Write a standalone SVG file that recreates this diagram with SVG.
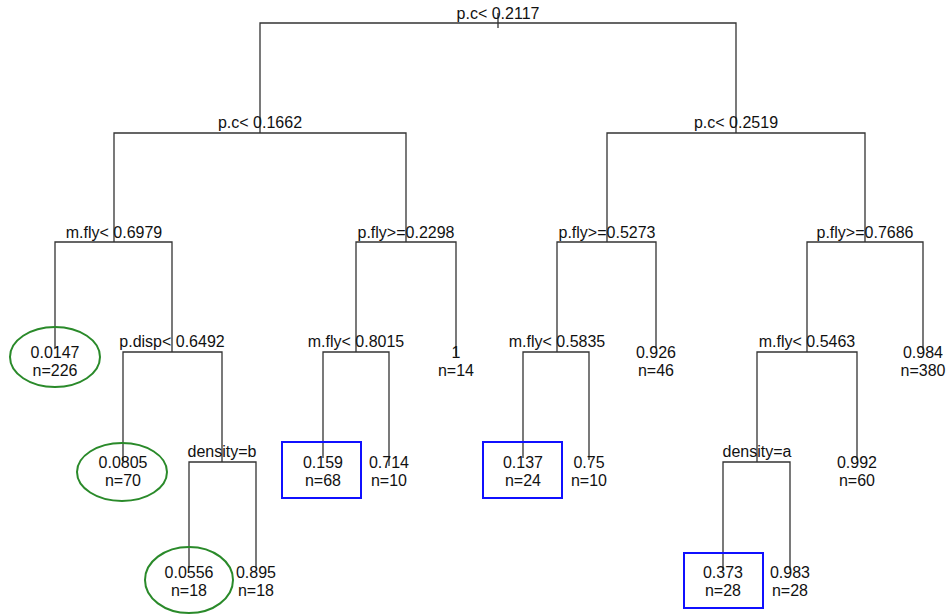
<svg xmlns="http://www.w3.org/2000/svg" width="952" height="615" viewBox="0 0 952 615">
<style>
  text { font-family: "Liberation Sans", Arial, sans-serif; font-size: 16px; fill: #111; text-anchor: middle; }
  .edge { fill: none; stroke: #333; stroke-width: 1.3; }
  .oval { fill: none; stroke: #2a8a2a; stroke-width: 2; }
  .box { fill: none; stroke: #1010ff; stroke-width: 2; }
</style>
<rect width="952" height="615" fill="#ffffff"/>
<g id="connectors">
  <path class="edge" d="M498,13 V28"/>
  <path class="edge" d="M260,133 V23 H736 V133"/>
  <path class="edge" d="M114,242 V133 H406 V242"/>
  <path class="edge" d="M55,348 V242 H172 V352"/>
  <path class="edge" d="M123,462 V352 H222 V462"/>
  <path class="edge" d="M189,568 V462 H256 V568"/>
  <path class="edge" d="M356,352 V242 H456 V356"/>
  <path class="edge" d="M323,458 V352 H389 V466"/>
  <path class="edge" d="M607,242 V133 H865 V242"/>
  <path class="edge" d="M557,352 V242 H656 V348"/>
  <path class="edge" d="M523,458 V352 H589 V460"/>
  <path class="edge" d="M807,352 V242 H923 V350"/>
  <path class="edge" d="M757,462 V352 H857 V460"/>
  <path class="edge" d="M723,570 V462 H790 V570"/>
</g>
<g id="split-root"><text x="498" y="19">p.c&lt; 0.2117</text></g>
<g id="split-pc1662"><text x="260" y="128">p.c&lt; 0.1662</text></g>
<g id="split-pc2519"><text x="736" y="128">p.c&lt; 0.2519</text></g>
<g id="split-mfly6979"><text x="114" y="238">m.fly&lt; 0.6979</text></g>
<g id="split-pfly2298"><text x="406" y="238">p.fly&gt;=0.2298</text></g>
<g id="split-pfly5273"><text x="607" y="238">p.fly&gt;=0.5273</text></g>
<g id="split-pfly7686"><text x="865" y="238">p.fly&gt;=0.7686</text></g>
<g id="split-pdisp6492"><text x="172" y="347">p.disp&lt; 0.6492</text></g>
<g id="split-mfly8015"><text x="356" y="347">m.fly&lt; 0.8015</text></g>
<g id="split-mfly5835"><text x="557" y="347">m.fly&lt; 0.5835</text></g>
<g id="split-mfly5463"><text x="807" y="347">m.fly&lt; 0.5463</text></g>
<g id="split-densityb"><text x="222" y="457">density=b</text></g>
<g id="split-densitya"><text x="757" y="457">density=a</text></g>

<g id="leaf-0147"><ellipse class="oval" cx="55" cy="357" rx="45" ry="30"/><text x="55" y="358">0.0147</text><text x="55" y="376">n=226</text></g>
<g id="leaf-0805"><ellipse class="oval" cx="122" cy="472" rx="45" ry="29"/><text x="123" y="468">0.0805</text><text x="123" y="486">n=70</text></g>
<g id="leaf-0556"><ellipse class="oval" cx="189" cy="580" rx="44" ry="33"/><text x="189" y="578">0.0556</text><text x="189" y="596">n=18</text></g>
<g id="leaf-0895"><text x="256" y="578">0.895</text><text x="256" y="596">n=18</text></g>
<g id="leaf-1"><text x="456" y="358">1</text><text x="456" y="376">n=14</text></g>
<g id="leaf-0159"><rect class="box" x="282" y="442" width="79" height="56"/><text x="323" y="468">0.159</text><text x="323" y="486">n=68</text></g>
<g id="leaf-0714"><text x="389" y="468">0.714</text><text x="389" y="486">n=10</text></g>
<g id="leaf-0137"><rect class="box" x="483" y="442" width="79" height="56"/><text x="523" y="468">0.137</text><text x="523" y="486">n=24</text></g>
<g id="leaf-075"><text x="589" y="468">0.75</text><text x="589" y="486">n=10</text></g>
<g id="leaf-0926"><text x="656" y="358">0.926</text><text x="656" y="376">n=46</text></g>
<g id="leaf-0984"><text x="923" y="358">0.984</text><text x="923" y="376">n=380</text></g>
<g id="leaf-0992"><text x="857" y="468">0.992</text><text x="857" y="486">n=60</text></g>
<g id="leaf-0373"><rect class="box" x="684" y="553" width="79" height="55"/><text x="723" y="578">0.373</text><text x="723" y="596">n=28</text></g>
<g id="leaf-0983"><text x="790" y="578">0.983</text><text x="790" y="596">n=28</text></g>
</svg>
